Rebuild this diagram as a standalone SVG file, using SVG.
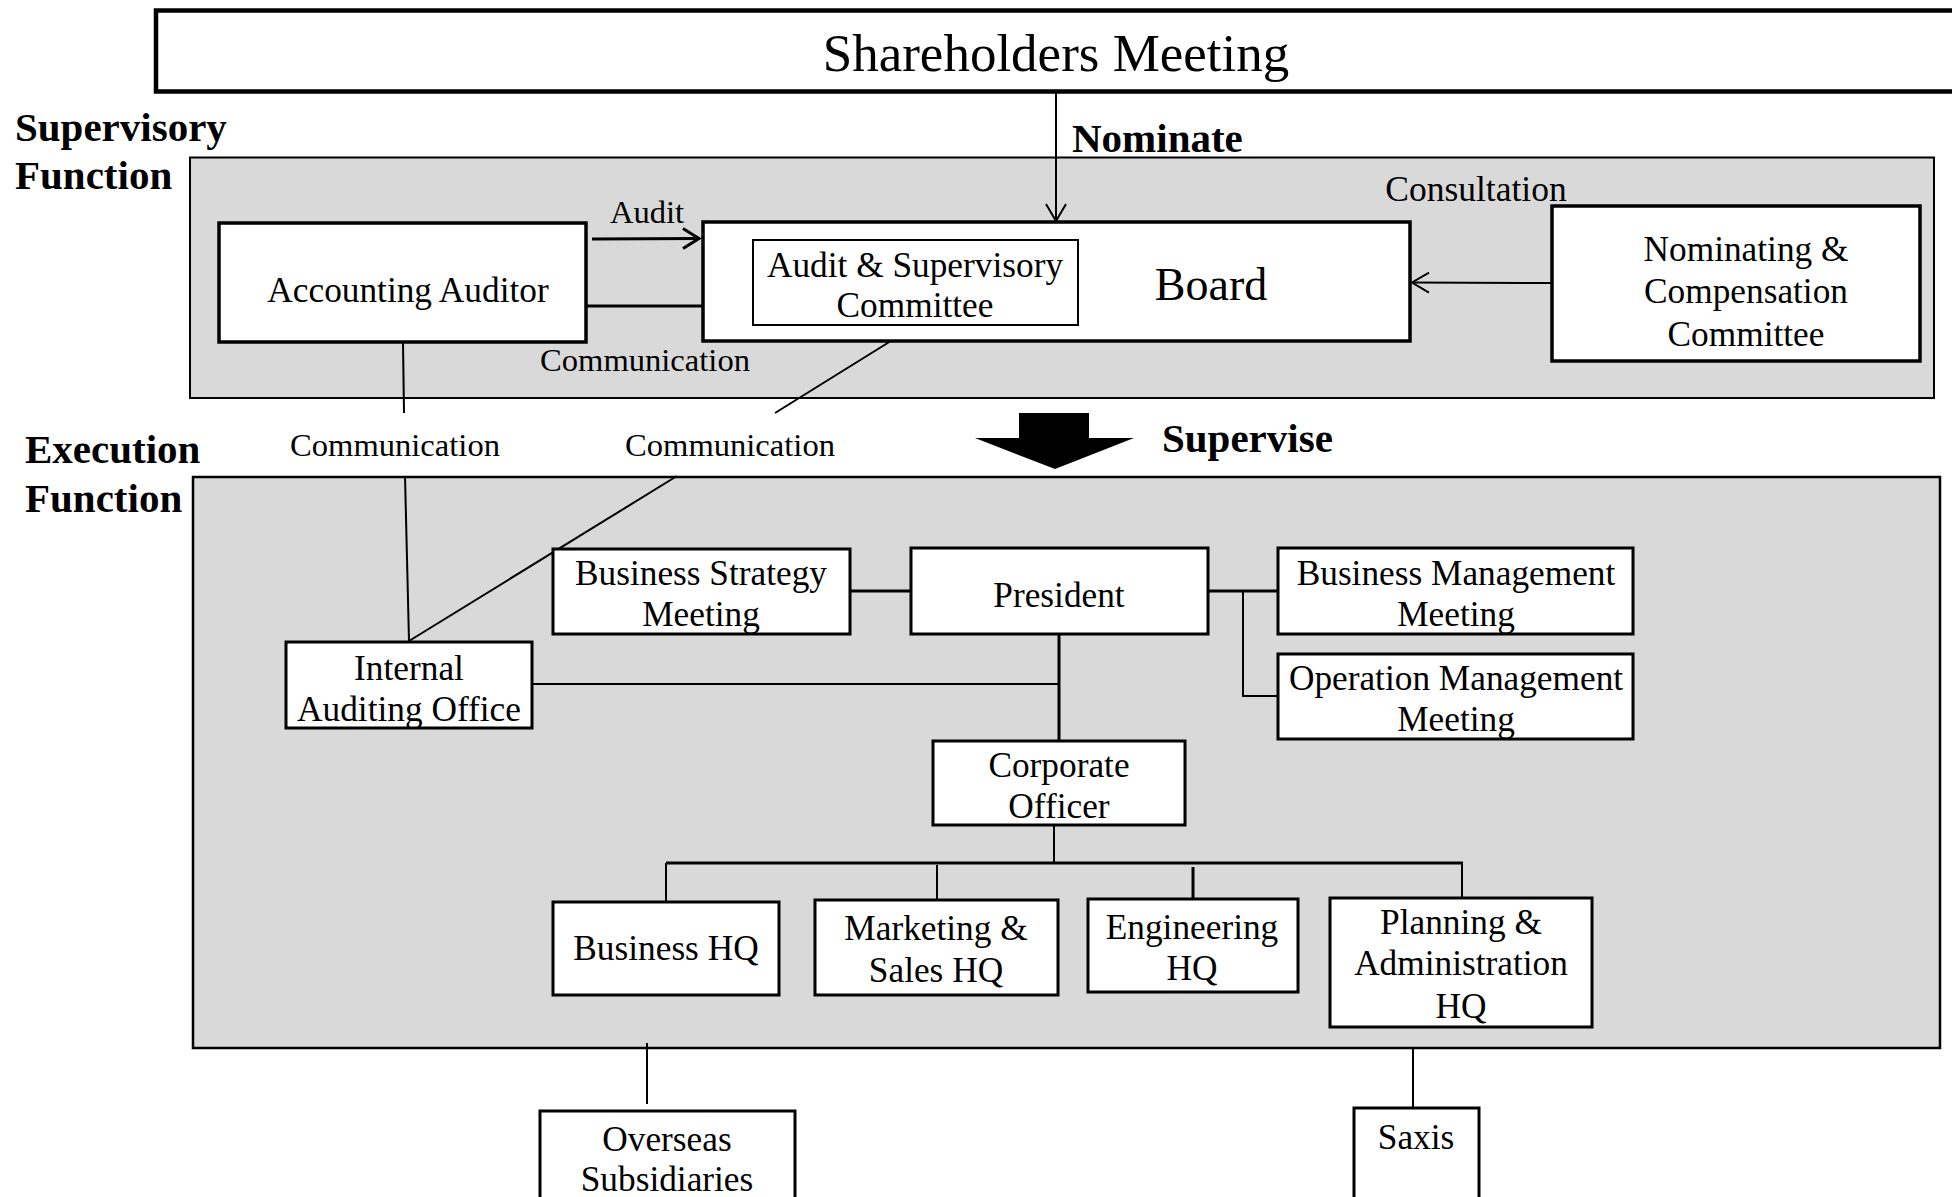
<svg xmlns="http://www.w3.org/2000/svg" width="1952" height="1197" viewBox="0 0 1952 1197">
  <style>
    text { font-family: "Liberation Serif", "Times New Roman", serif; fill: #000; }
    .node { font-size: 35.3px; text-anchor: middle; }
    .label { font-size: 32.6px; text-anchor: middle; }
    .head { font-size: 41px; font-weight: bold; }
    .box { fill: #fff; stroke: #000; stroke-width: 3; }
    .boxb { fill: #fff; stroke: #000; stroke-width: 3.5; }
    .panel { fill: #d9d9d9; stroke: #000; }
    .ln { fill: none; stroke: #000; stroke-width: 2; }
    .lnb { fill: none; stroke: #000; stroke-width: 3; }
  </style>
  <defs>
    <marker id="openArrow" viewBox="0 0 20 22" refX="18" refY="11" markerWidth="20" markerHeight="22" markerUnits="userSpaceOnUse" orient="auto">
      <path d="M1,1 L18,11 L1,21" fill="none" stroke="#000" stroke-width="2"/>
    </marker>
    <marker id="openArrowBold" viewBox="0 0 20 24" refX="17" refY="12" markerWidth="20" markerHeight="24" markerUnits="userSpaceOnUse" orient="auto">
      <path d="M1,2 L17,12 L1,22" fill="none" stroke="#000" stroke-width="3"/>
    </marker>
  </defs>

  <rect width="1952" height="1197" fill="#fff"/>

  <!-- Shareholders meeting banner -->
  <g id="shareholders">
    <rect x="156" y="10.5" width="1820" height="81" fill="#fff" stroke="#000" stroke-width="4.5"/>
    <text x="1056" y="71" font-size="53" text-anchor="middle">Shareholders Meeting</text>
  </g>

  <!-- Section headings -->
  <text class="head" x="15" y="141">Supervisory</text>
  <text class="head" x="15" y="189">Function</text>
  <text class="head" x="25" y="463">Execution</text>
  <text class="head" x="25" y="512">Function</text>

  <!-- Supervisory panel -->
  <rect id="supervisory-panel" class="panel" x="190" y="157.5" width="1744" height="240.5" stroke-width="2"/>

  <!-- Execution panel -->
  <rect id="execution-panel" class="panel" x="193" y="477" width="1747" height="571" stroke-width="2.5"/>

  <!-- Supervise arrow -->
  <g id="supervise">
    <polygon points="1019,413 1089,413 1089,438 1134,438 1055,469 975,438 1019,438" fill="#000"/>
    <text class="head" x="1162" y="452">Supervise</text>
  </g>

  <!-- Connectors -->
  <g id="connectors">
    <!-- Nominate -->
    <line class="ln" x1="1056" y1="93" x2="1056" y2="221" stroke-width="1.5" marker-end="url(#openArrow)"/>
    <!-- Audit -->
    <line class="lnb" x1="592" y1="239" x2="699" y2="238.5" marker-end="url(#openArrowBold)"/>
    <!-- Consultation -->
    <line class="ln" x1="1552" y1="283" x2="1412" y2="282.5" marker-end="url(#openArrow)"/>
    <!-- Accounting Auditor to Audit & Supervisory Committee -->
    <line class="lnb" x1="586" y1="306" x2="753" y2="306"/>
    <!-- Accounting Auditor to Internal Auditing Office -->
    <line class="ln" x1="403" y1="343" x2="404" y2="413"/>
    <line class="ln" x1="405" y1="476" x2="409" y2="641"/>
    <!-- Audit & Supervisory Committee to Internal Auditing Office -->
    <line class="ln" x1="915" y1="326" x2="775" y2="413"/>
    <line class="ln" x1="677" y1="476" x2="409" y2="641"/>
    <!-- Business Strategy Meeting to President -->
    <line class="lnb" x1="850" y1="591" x2="911" y2="591"/>
    <!-- President to management meetings -->
    <line class="lnb" x1="1208" y1="591" x2="1279" y2="591"/>
    <polyline class="ln" points="1243,591 1243,696 1279,696"/>
    <!-- President to Corporate Officer -->
    <line class="lnb" x1="1059" y1="634" x2="1059" y2="741"/>
    <!-- Internal Auditing Office to President line -->
    <line class="ln" x1="532" y1="684" x2="1059" y2="684"/>
    <!-- Corporate Officer to headquarters -->
    <line class="ln" x1="1054" y1="825" x2="1054" y2="863"/>
    <line class="lnb" x1="666" y1="863" x2="1463" y2="863"/>
    <line class="ln" x1="666" y1="863" x2="666" y2="902"/>
    <line class="ln" x1="937" y1="865" x2="937" y2="900"/>
    <line class="lnb" x1="1193" y1="867" x2="1193" y2="898"/>
    <line class="ln" x1="1462" y1="863" x2="1462" y2="898"/>
    <!-- Subsidiaries -->
    <line class="ln" x1="647" y1="1043" x2="647" y2="1104"/>
    <line class="ln" x1="1413" y1="1048" x2="1413" y2="1107"/>
  </g>

  <!-- Connector labels -->
  <text class="label" x="647" y="223">Audit</text>
  <text class="label" x="645" y="371">Communication</text>
  <text x="1476" y="201" font-size="35.5" text-anchor="middle">Consultation</text>
  <text class="label" x="395" y="456">Communication</text>
  <text class="label" x="730" y="456">Communication</text>
  <text class="head" x="1072" y="152">Nominate</text>

  <!-- Supervisory nodes -->
  <g id="accounting-auditor">
    <rect class="boxb" x="219" y="223" width="367" height="119"/>
    <text class="node" x="408" y="302">Accounting Auditor</text>
  </g>
  <g id="board">
    <rect class="boxb" x="703" y="222" width="707" height="119"/>
    <text x="1211" y="300" font-size="46" text-anchor="middle">Board</text>
  </g>
  <g id="audit-supervisory-committee">
    <rect x="753" y="240" width="325" height="85" fill="#fff" stroke="#000" stroke-width="2"/>
    <text class="node" x="915" y="277">Audit &amp; Supervisory</text>
    <text class="node" x="915" y="317">Committee</text>
  </g>
  <g id="nominating-compensation">
    <rect class="boxb" x="1552" y="206" width="368" height="155"/>
    <text class="node" x="1746" y="261">Nominating &amp;</text>
    <text class="node" x="1746" y="303">Compensation</text>
    <text class="node" x="1746" y="346">Committee</text>
  </g>

  <!-- Execution nodes -->
  <g id="business-strategy-meeting">
    <rect class="box" x="553" y="549" width="297" height="85"/>
    <text class="node" x="701" y="585">Business Strategy</text>
    <text class="node" x="701" y="626">Meeting</text>
  </g>
  <g id="president">
    <rect class="box" x="911" y="548" width="297" height="86"/>
    <text class="node" x="1059" y="607">President</text>
  </g>
  <g id="business-management-meeting">
    <rect class="box" x="1278" y="548" width="355" height="86"/>
    <text class="node" x="1456" y="585">Business Management</text>
    <text class="node" x="1456" y="626">Meeting</text>
  </g>
  <g id="operation-management-meeting">
    <rect class="box" x="1278" y="654" width="355" height="85"/>
    <text class="node" x="1456" y="690">Operation Management</text>
    <text class="node" x="1456" y="731">Meeting</text>
  </g>
  <g id="internal-auditing-office">
    <rect class="box" x="286" y="642" width="246" height="86"/>
    <text class="node" x="409" y="680">Internal</text>
    <text class="node" x="409" y="721">Auditing Office</text>
  </g>
  <g id="corporate-officer">
    <rect class="box" x="933" y="741" width="252" height="84"/>
    <text class="node" x="1059" y="777">Corporate</text>
    <text class="node" x="1059" y="818">Officer</text>
  </g>
  <g id="business-hq">
    <rect class="box" x="553" y="902" width="226" height="93"/>
    <text class="node" x="666" y="960">Business HQ</text>
  </g>
  <g id="marketing-sales-hq">
    <rect class="box" x="815" y="900" width="243" height="95"/>
    <text class="node" x="936" y="940">Marketing &amp;</text>
    <text class="node" x="936" y="982">Sales HQ</text>
  </g>
  <g id="engineering-hq">
    <rect class="box" x="1088" y="899" width="210" height="93"/>
    <text class="node" x="1192" y="939">Engineering</text>
    <text class="node" x="1192" y="980">HQ</text>
  </g>
  <g id="planning-administration-hq">
    <rect class="box" x="1330" y="898" width="262" height="129"/>
    <text class="node" x="1461" y="934">Planning &amp;</text>
    <text class="node" x="1461" y="975">Administration</text>
    <text class="node" x="1461" y="1018">HQ</text>
  </g>

  <!-- Subsidiaries -->
  <g id="overseas-subsidiaries">
    <rect class="box" x="540" y="1111" width="255" height="110"/>
    <text class="node" x="667" y="1151">Overseas</text>
    <text class="node" x="667" y="1191">Subsidiaries</text>
  </g>
  <g id="saxis">
    <rect class="box" x="1354" y="1108" width="125" height="110"/>
    <text class="node" x="1416" y="1149">Saxis</text>
  </g>
</svg>
